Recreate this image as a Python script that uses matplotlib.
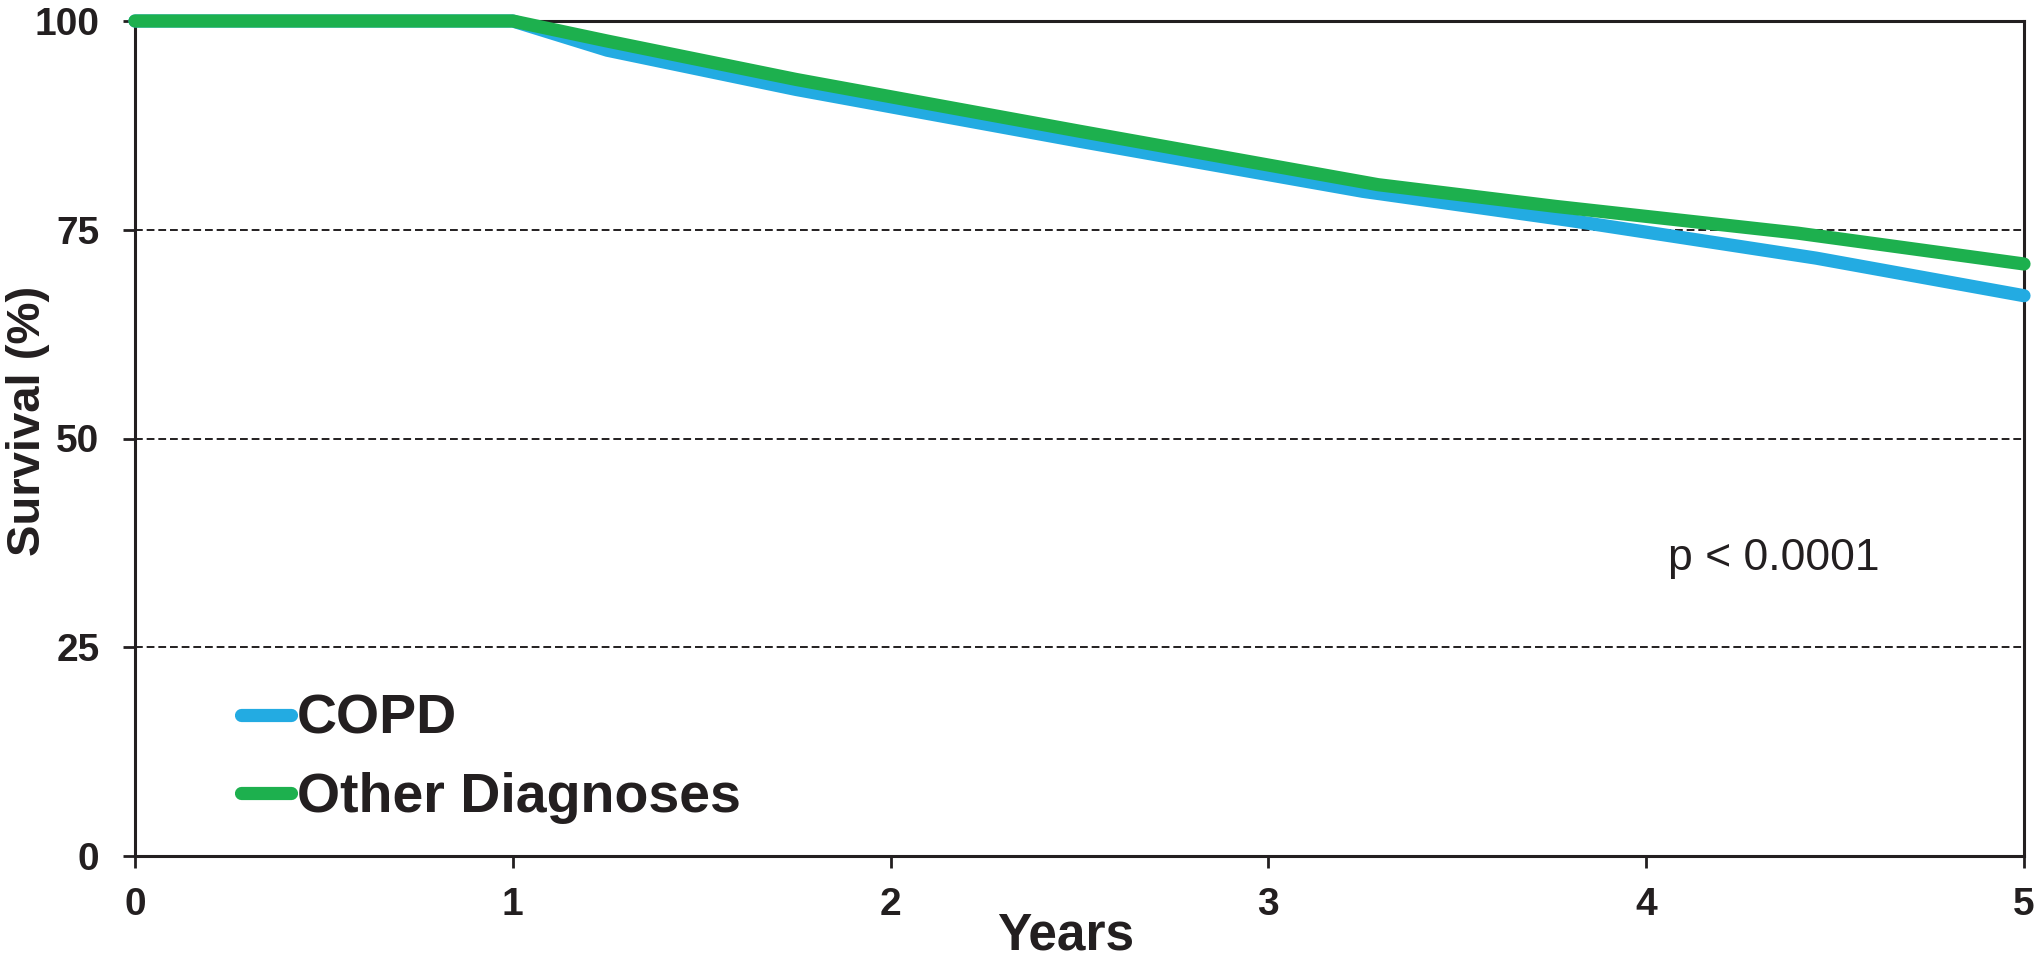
import matplotlib
matplotlib.use("Agg")
import matplotlib.pyplot as plt

# Data
years_copd = [0, 1, 1.25, 1.75, 2.5, 3.25, 3.8, 4.45, 5]
surv_copd = [100, 100, 96.5, 91.8, 85.6, 79.6, 76.1, 71.6, 67.1]
years_other = [0, 1, 1.25, 1.75, 2.5, 3.29, 3.76, 4.4, 5]
surv_other = [100, 100, 97.6, 93.0, 86.8, 80.4, 77.8, 74.6, 70.9]
series_labels = ["COPD", "Other Diagnoses"]
x_ticks = [0, 1, 2, 3, 4, 5]
y_ticks = [0, 25, 50, 75, 100]
grid_levels = [25, 50, 75]
p_text = "p < 0.0001"

BLUE = "#23ABE2"
GREEN = "#1DB04E"
INK = "#231F20"

plt.rcParams['font.family'] = ['Liberation Sans', 'DejaVu Sans']

fig = plt.figure(figsize=(20.4, 9.61), dpi=100)
ax = fig.add_axes([135/2040, 1-856/961, (2024-135)/2040, (856-21)/961])

for g in grid_levels:
    ax.axhline(g, color=INK, lw=1.4, ls=(0, (4, 2)), zorder=1)

ax.plot(years_copd, surv_copd, color=BLUE, lw=9.5, solid_capstyle='round',
        solid_joinstyle='round', clip_on=False, zorder=3, label=series_labels[0])
ax.plot(years_other, surv_other, color=GREEN, lw=9.5, solid_capstyle='round',
        solid_joinstyle='round', clip_on=False, zorder=4, label=series_labels[1])

ax.set_xlim(0, 5)
ax.set_ylim(0, 100)
ax.set_xticks(x_ticks)
ax.set_yticks(y_ticks)
ax.set_xticklabels([str(v) for v in x_ticks])
ax.set_yticklabels([str(v) for v in y_ticks])

for s in ax.spines.values():
    s.set_linewidth(2.2)
    s.set_color(INK)
    s.set_zorder(2)

ax.tick_params(axis='both', direction='out', length=8.5, width=2, colors=INK,
               labelsize=28)
ax.tick_params(axis='x', pad=14)
ax.tick_params(axis='y', pad=17)
for lab in ax.get_xticklabels() + ax.get_yticklabels():
    lab.set_fontweight('bold')

ax.set_ylabel("Survival (%)", fontsize=34, fontweight='bold', color=INK, va='center')
ax.yaxis.set_label_coords((28-135)/1889, 0.5 + 18/835)
ax.set_xlabel("Years", fontsize=37, fontweight='bold', color=INK, va='center')
ax.xaxis.set_label_coords((1066-135)/1889, -(936-856)/835)

ax.text(4.058, 34.25, p_text, fontsize=32, color=INK, ha='left', va='baseline')

leg = ax.legend(loc='center left', bbox_to_anchor=(241/2040, 1-759/961),
                bbox_transform=fig.transFigure, frameon=False, fontsize=40,
                handlelength=0.9, handletextpad=0.1, labelspacing=0.47,
                borderpad=0, borderaxespad=0)
for t in leg.get_texts():
    t.set_fontweight('bold')
    t.set_color(INK)
for h in leg.get_lines():
    h.set_linewidth(9.5)
    h.set_solid_capstyle('round')

fig.savefig("out.png", dpi=100, facecolor='white')
